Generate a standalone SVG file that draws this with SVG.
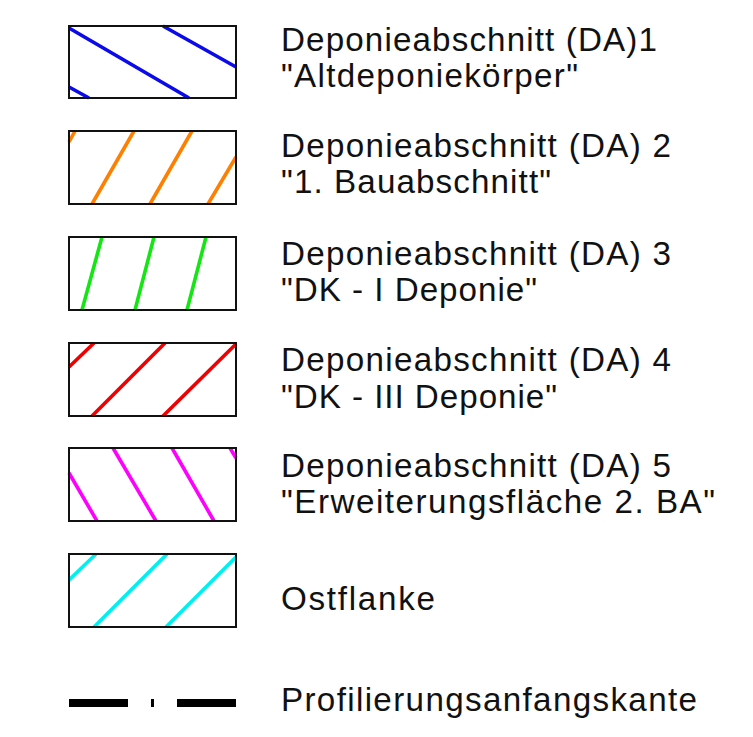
<svg xmlns="http://www.w3.org/2000/svg" width="753" height="737" viewBox="0 0 753 737">
<style>
.box{fill:none;stroke:#111;stroke-width:2}
.h{stroke-width:3.6;fill:none}
.t{font-family:"Liberation Sans",Arial,sans-serif;font-size:33.2px;fill:#111}
</style>
<rect width="753" height="737" fill="#fff"/>
<g id="legend-da1">
<g class="h" stroke="#0a0aeb"><path d="M69 28L189 98M163 26L236 67M69 87L89 98"/></g>
<rect class="box" x="69" y="26" width="167" height="72"/>
<text class="t" x="281" y="51" textLength="376" lengthAdjust="spacing">Deponieabschnitt (DA)1</text>
<text class="t" x="281" y="87" textLength="297" lengthAdjust="spacing">"Altdeponiekörper"</text>
</g>
<g id="legend-da2">
<g class="h" stroke="#ff8000"><path d="M92 204L134 131M150 204L192 131M208 204L236 157M69 142L75 131"/></g>
<rect class="box" x="69" y="131" width="167" height="73"/>
<text class="t" x="281" y="157" textLength="390" lengthAdjust="spacing">Deponieabschnitt (DA) 2</text>
<text class="t" x="281" y="193" textLength="270" lengthAdjust="spacing">"1. Bauabschnitt"</text>
</g>
<g id="legend-da3">
<g class="h" stroke="#14e614"><path d="M82 310L102 237M135 310L154 237M187 310L206 237"/></g>
<rect class="box" x="69" y="237" width="167" height="73"/>
<text class="t" x="281" y="265" textLength="390" lengthAdjust="spacing">Deponieabschnitt (DA) 3</text>
<text class="t" x="281" y="301" textLength="256" lengthAdjust="spacing">"DK - I Deponie"</text>
</g>
<g id="legend-da4">
<g class="h" stroke="#f00000"><path d="M69 367L94 343M92 416L165 343M163 416L236 344"/></g>
<rect class="box" x="69" y="343" width="167" height="73"/>
<text class="t" x="281" y="371" textLength="390" lengthAdjust="spacing">Deponieabschnitt (DA) 4</text>
<text class="t" x="281" y="408" textLength="276" lengthAdjust="spacing">"DK - III Deponie"</text>
</g>
<g id="legend-da5">
<g class="h" stroke="#ff00ff"><path d="M69 473L97 521M113 448L156 521M172 448L214 521M230 448L236 458"/></g>
<rect class="box" x="69" y="448" width="167" height="73"/>
<text class="t" x="281" y="477" textLength="390" lengthAdjust="spacing">Deponieabschnitt (DA) 5</text>
<text class="t" x="281" y="513" textLength="434" lengthAdjust="spacing">"Erweiterungsfläche 2. BA"</text>
</g>
<g id="legend-ostflanke">
<g class="h" stroke="#00f0f0"><path d="M69 580L96 554M94 627L167 554M166 627L236 557"/></g>
<rect class="box" x="69" y="554" width="167" height="73"/>
<text class="t" x="281" y="610" textLength="154" lengthAdjust="spacing">Ostflanke</text>
</g>
<g id="connectors">
<path d="M69 703H128M151 703H154M177 703H236" stroke="#000" stroke-width="8" fill="none"/>
</g>
<g id="legend-profil">
<text class="t" x="281" y="711" textLength="416" lengthAdjust="spacing">Profilierungsanfangskante</text>
</g>
</svg>
